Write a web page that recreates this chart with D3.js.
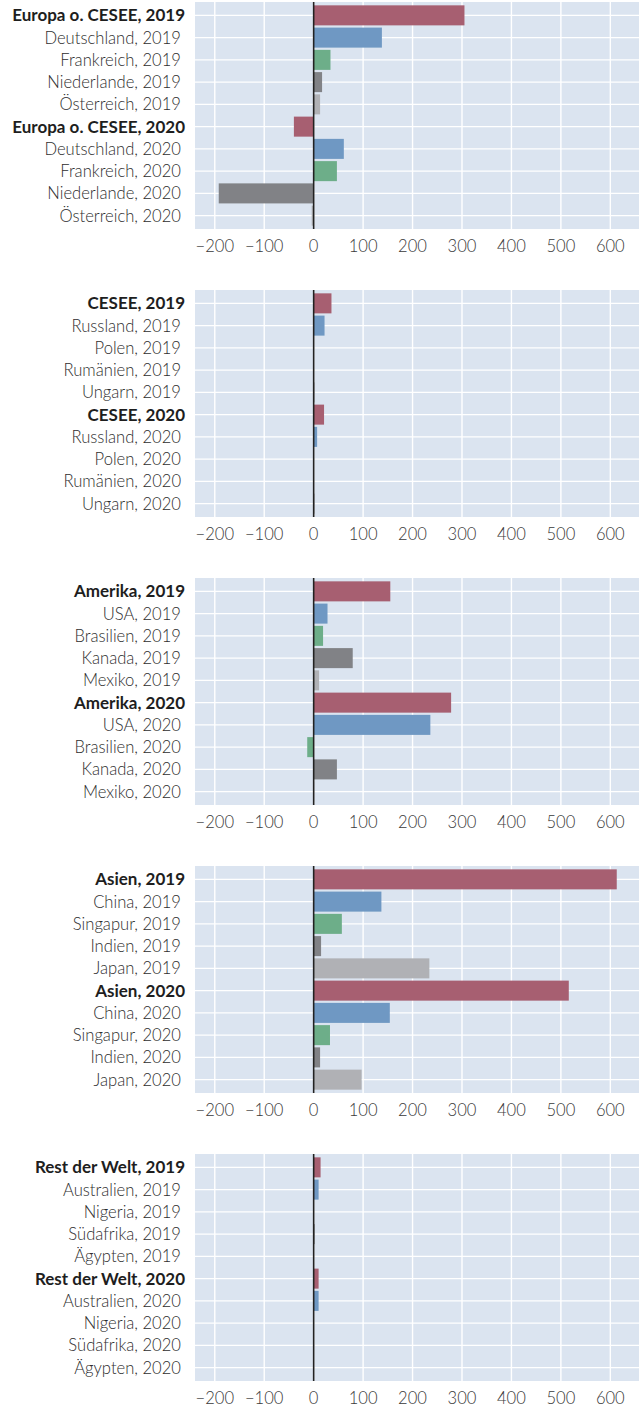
<!DOCTYPE html>
<html><head><meta charset="utf-8">
<script src="https://cdn.jsdelivr.net/npm/d3@7"></script>
<style>
html,body{margin:0;padding:0;background:#fff;}
svg{display:block;}
</style></head>
<body>
<svg id="chart" width="640" height="1407"></svg>
<script>
// ---- data ----
const regions = ["Europa o. CESEE", "CESEE", "Amerika", "Asien", "Rest der Welt"];
const countries = [
  ["Deutschland", "Frankreich", "Niederlande", "Österreich"],
  ["Russland", "Polen", "Rumänien", "Ungarn"],
  ["USA", "Brasilien", "Kanada", "Mexiko"],
  ["China", "Singapur", "Indien", "Japan"],
  ["Australien", "Nigeria", "Südafrika", "Ägypten"]
];
const years = ["2019", "2020"];
// values: [region, c1, c2, c3, c4] per year
const values2019 = [
  [305, 138, 34, 17, 13],
  [36, 22, 0, 0, 2],
  [155, 28, 19, 79, 11],
  [613, 137, 57, 15, 234],
  [14, 10, 0, 2, 0]
];
const values2020 = [
  [-40, 61, 47, -192, -4],
  [21, 7, 0, 0, 2],
  [278, 236, -13, 47, 1],
  [516, 154, 33, 13, 97],
  [10, 10, 0, -1, 0]
];
const xTicks = [-200, -100, 0, 100, 200, 300, 400, 500, 600];
const xDomain = [-240, 658];

// ---- styles ----
const colors = ["#A75F71", "#6F98C3", "#6DAE89", "#818286", "#B0B1B5"];
const bg = "#DBE4F0";
const font = "Lato, 'Open Sans', sans-serif";

const svg = d3.select("#chart");
const left = 195, right = 639;
const panelTop0 = 2, panelPitch = 288, panelH = 227;

const x = d3.scaleLinear().domain(xDomain).range([left, right]);

regions.forEach((reg, p) => {
  const rows = [];
  years.forEach((yr, yi) => {
    const vals = yi === 0 ? values2019[p] : values2020[p];
    rows.push({label: reg + ", " + yr, value: vals[0], bold: true, ci: 0});
    countries[p].forEach((c, k) => {
      rows.push({label: c + ", " + yr, value: vals[k + 1], bold: false, ci: k + 1});
    });
  });
  const top = panelTop0 + p * panelPitch;
  const unit = panelH / (rows.length - 1 + 1.2);
  const y = d3.scaleLinear().domain([0, rows.length - 1]).range([top + 0.6 * unit, top + (rows.length - 0.4) * unit]);
  const g = svg.append("g");
  g.append("rect").attr("x", left).attr("y", top).attr("width", right - left).attr("height", panelH).attr("fill", bg);
  // gridlines
  g.selectAll(".vg").data(xTicks).enter().append("line")
    .attr("x1", d => x(d)).attr("x2", d => x(d)).attr("y1", top).attr("y2", top + panelH)
    .attr("stroke", "#fff").attr("stroke-width", 1.4);
  g.selectAll(".hg").data(rows).enter().append("line")
    .attr("x1", left).attr("x2", right).attr("y1", (d, i) => y(i)).attr("y2", (d, i) => y(i))
    .attr("stroke", "#fff").attr("stroke-width", 1.4);
  // bars
  const bh = unit * 0.9;
  g.selectAll(".bar").data(rows).enter().append("rect")
    .attr("x", d => x(Math.min(0, d.value)))
    .attr("width", d => Math.abs(x(d.value) - x(0)))
    .attr("y", (d, i) => y(i) - bh / 2)
    .attr("height", bh)
    .attr("fill", d => colors[d.ci]);
  // zero line
  g.append("line").attr("x1", x(0)).attr("x2", x(0)).attr("y1", top).attr("y2", top + panelH)
    .attr("stroke", "#222").attr("stroke-width", 1.6);
  // y labels
  g.selectAll(".yl").data(rows).enter().append("text")
    .attr("x", d => d.bold ? 185 : 181)
    .attr("y", (d, i) => y(i))
    .attr("dy", "0.36em")
    .attr("text-anchor", "end")
    .attr("font-family", font)
    .attr("font-size", d => d.bold ? 17 : 16.6)
    .attr("font-weight", d => d.bold ? 700 : 300)
    .attr("fill", d => d.bold ? "#1e1e1e" : "#2e2e2e")
    .text(d => d.label);
  // x axis labels
  g.selectAll(".xl").data(xTicks).enter().append("text")
    .attr("x", d => x(d))
    .attr("y", top + panelH + 17)
    .attr("dy", "0.36em")
    .attr("text-anchor", "middle")
    .attr("font-family", font)
    .attr("font-size", 16.6)
    .attr("font-weight", 300)
    .attr("fill", "#3a3a3a")
    .text(d => d < 0 ? "\u2212" + Math.abs(d) : d);
});
</script>
</body></html>
